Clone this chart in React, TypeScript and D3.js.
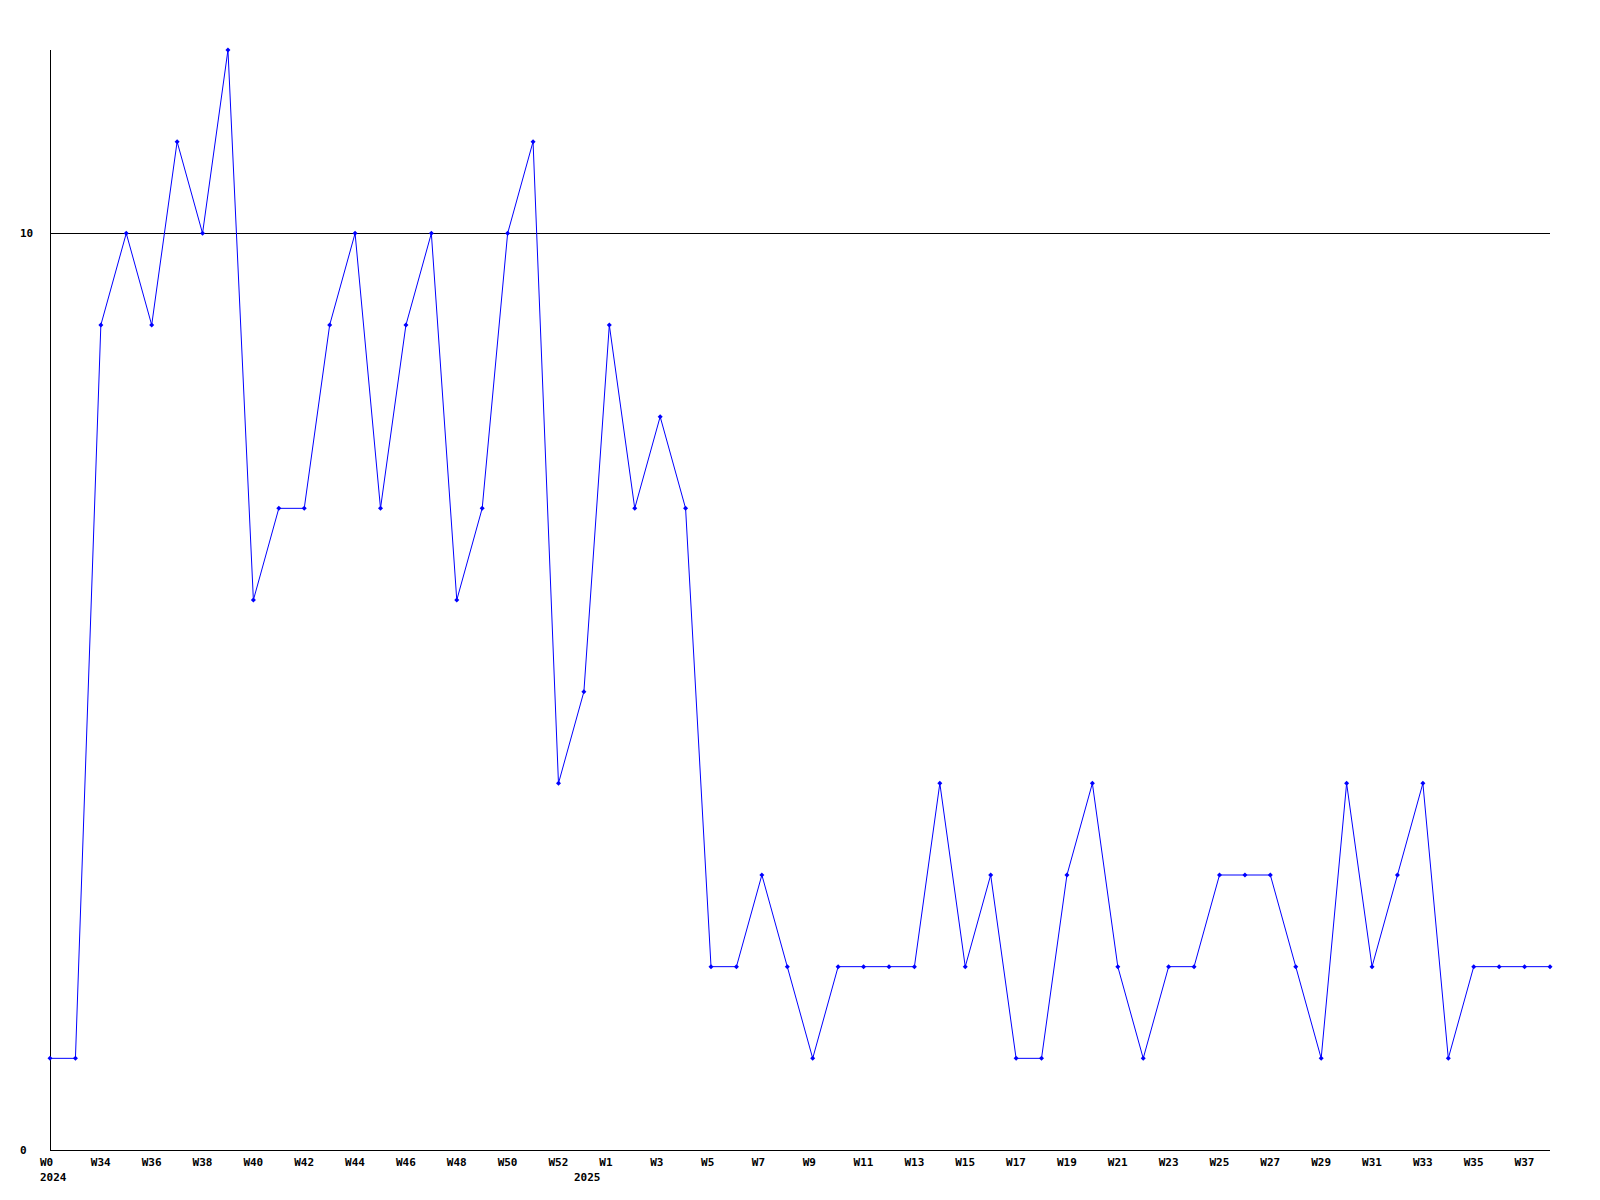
import React from "react";
import * as d3 from "d3";

const weeks: string[] = [
  "W0", "W33", "W34", "W35", "W36", "W37", "W38", "W39", "W40", "W41",
  "W42", "W43", "W44", "W45", "W46", "W47", "W48", "W49", "W50", "W51",
  "W52", "W0b", "W1", "W2", "W3", "W4", "W5", "W6", "W7", "W8",
  "W9", "W10", "W11", "W12", "W13", "W14", "W15", "W16", "W17", "W18",
  "W19", "W20", "W21", "W22", "W23", "W24", "W25", "W26", "W27", "W28",
  "W29", "W30", "W31", "W32", "W33b", "W34b", "W35b", "W36b", "W37b", "W38b",
];
const tickLabels: string[] = [
  "W0", "", "W34", "", "W36", "", "W38", "", "W40", "",
  "W42", "", "W44", "", "W46", "", "W48", "", "W50", "",
  "W52", "", "W1", "", "W3", "", "W5", "", "W7", "",
  "W9", "", "W11", "", "W13", "", "W15", "", "W17", "",
  "W19", "", "W21", "", "W23", "", "W25", "", "W27", "",
  "W29", "", "W31", "", "W33", "", "W35", "", "W37", "",
];
const values: number[] = [
  1, 1, 9, 10, 9, 11, 10, 12, 6, 7,
  7, 9, 10, 7, 9, 10, 6, 7, 10, 11,
  4, 5, 9, 7, 8, 7, 2, 2, 3, 2,
  1, 2, 2, 2, 2, 4, 2, 3, 1, 1,
  3, 4, 2, 1, 2, 2, 3, 3, 3, 2,
  1, 4, 2, 3, 4, 1, 2, 2, 2, 2,
];
const yearLabels: { idx: number; label: string }[] = [
  { idx: 0, label: "2024" },
  { idx: 21, label: "2025" },
];
const yTicks: number[] = [0, 10];

export default function App() {
  const W = 1600, H = 1200;
  const left = 50, right = 1550, top = 50, bottom = 1150;
  const x = d3.scalePoint<string>().domain(weeks).range([left, right]);
  const y = d3.scaleLinear().domain([0, 12]).range([bottom, top]);
  const line = d3.line<number>().x((_, i) => x(weeks[i])!).y((d) => y(d));
  const font = "'DejaVu Sans Mono', monospace";
  return (
    <svg width={W} height={H} style={{ position: "absolute", left: 0, top: 0, background: "#fff" }}>
      <rect x={0} y={0} width={W} height={H} fill="#fff" />
      <line x1={left} x2={right} y1={y(10)} y2={y(10)} stroke="#000" strokeWidth={1} shapeRendering="crispEdges" />
      <line x1={left} x2={left} y1={top} y2={bottom} stroke="#000" strokeWidth={1} shapeRendering="crispEdges" />
      <line x1={left} x2={right} y1={bottom} y2={bottom} stroke="#000" strokeWidth={1} shapeRendering="crispEdges" />
      {yTicks.map((t) => (
        <text key={t} x={20} y={y(t)} dy="0.35em" fontFamily={font} fontWeight="bold" fontSize={11} fill="#000">
          {t}
        </text>
      ))}
      {weeks.map((w, i) =>
        tickLabels[i] ? (
          <text key={w} x={x(w)! - 10} y={1166} fontFamily={font} fontWeight="bold" fontSize={11} fill="#000">
            {tickLabels[i]}
          </text>
        ) : null
      )}
      {yearLabels.map((yl) => (
        <text key={yl.label} x={x(weeks[yl.idx])! - 10} y={1181} fontFamily={font} fontWeight="bold" fontSize={11} fill="#000">
          {yl.label}
        </text>
      ))}
      <path d={line(values) || ""} fill="none" stroke="#0000ff" strokeWidth={1} />
      {values.map((v, i) => {
        const cx = x(weeks[i])!, cy = y(v);
        return (
          <path key={i} d={`M${cx},${cy - 2.5}L${cx + 2.5},${cy}L${cx},${cy + 2.5}L${cx - 2.5},${cy}Z`} fill="#0000ff" />
        );
      })}
    </svg>
  );
}
